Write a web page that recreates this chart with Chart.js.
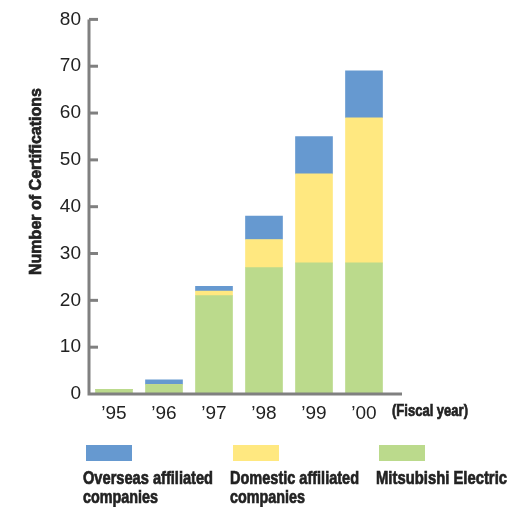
<!DOCTYPE html>
<html>
<head>
<meta charset="utf-8">
<script src="https://cdn.jsdelivr.net/npm/chart.js@4"></script>
<style>
  html, body { margin: 0; padding: 0; background: #fff; }
  #wrap { width: 531px; height: 507px; }
</style>
</head>
<body>
<div id="wrap"><canvas id="barchart" width="531" height="507"></canvas></div>
<script>
const years = ['\u201995', '\u201996', '\u201997', '\u201998', '\u201999', '\u201900'];
const mitsubishi = [1, 2, 21, 27, 28, 28];
const domestic = [0, 0, 1, 6, 19, 31];
const overseas = [0, 1, 1, 5, 8, 10];
const legendItems = [
  ['Overseas affiliated', 'companies'],
  ['Domestic affiliated', 'companies'],
  ['Mitsubishi Electric']
];
const colors = ['rgb(102, 153, 208)', 'rgb(255, 232, 128)', 'rgb(187, 218, 140)'];

// condensed bold look: squeeze Liberation Sans Bold sideways to a given width
function narrowText(c, s, x, y, w) {
  const k = w / c.measureText(s).width;
  c.save();
  c.translate(x, y);
  c.scale(k, 1);
  c.lineWidth = 0.7;
  c.strokeStyle = c.fillStyle;
  c.fillText(s, 0, 0);
  c.strokeText(s, 0, 0);
  c.restore();
}

// axis lines, inner ticks, titles and legend drawn by hand
const decor = {
  id: 'decor',
  afterDatasetsDraw(chart) {
    const c = chart.ctx;
    const area = chart.chartArea;
    const y = chart.scales.y;
    c.save();
    c.strokeStyle = '#808080';
    c.lineWidth = 3;
    c.beginPath();
    c.moveTo(area.right + 13, area.bottom);
    c.lineTo(area.left, area.bottom);
    c.lineTo(area.left, area.top);
    c.stroke();
    y.ticks.forEach(t => {
      const py = y.getPixelForValue(t.value);
      if (t.value === 0) return;
      c.beginPath();
      c.moveTo(area.left, py);
      c.lineTo(area.left + 9, py);
      c.stroke();
    });

    c.fillStyle = '#222';
    c.font = 'bold 17px "Liberation Sans"';
    c.textBaseline = 'alphabetic';
    c.textAlign = 'left';
    narrowText(c, '(Fiscal year)', 392, 416, 76);

    c.save();
    c.translate(41, 275);
    c.rotate(-Math.PI / 2);
    narrowText(c, 'Number of Certifications', 0, 0, 187);
    c.restore();

    const lx = [83, 230, 376];
    const widths = [[130, 75], [129, 75], [131]];
    c.font = 'bold 19px "Liberation Sans"';
    legendItems.forEach((lines, i) => {
      c.fillStyle = colors[i];
      c.fillRect(lx[i] + 3, 445, 46, 16);
      c.fillStyle = '#222';
      lines.forEach((s, j) => narrowText(c, s, lx[i], 484 + j * 19, widths[i][j]));
    });
    c.restore();
  }
};

const ctx = document.getElementById('barchart');
new Chart(ctx, {
  type: 'bar',
  data: {
    labels: years,
    datasets: [
      { label: 'Mitsubishi Electric', data: mitsubishi, backgroundColor: colors[2] },
      { label: 'Domestic affiliated companies', data: domestic, backgroundColor: colors[1] },
      { label: 'Overseas affiliated companies', data: overseas, backgroundColor: colors[0] }
    ]
  },
  options: {
    responsive: false,
    animation: false,
    events: [],
    barThickness: 37,
    layout: { padding: { left: 0, top: 17, right: 142, bottom: 73 } },
    plugins: { legend: { display: false }, tooltip: { enabled: false } },
    scales: {
      x: {
        stacked: true,
        grid: { display: false, drawTicks: false },
        border: { display: false },
        ticks: { color: '#222', font: { family: 'Liberation Sans', size: 19 }, padding: 8 },
        afterFit(s) { s.height = 40; }
      },
      y: {
        stacked: true,
        min: 0,
        max: 80,
        grid: { display: false, drawTicks: false },
        border: { display: false },
        ticks: { stepSize: 10, color: '#222', font: { family: 'Liberation Sans', size: 19 }, padding: 8 },
        afterFit(s) { s.width = 89; }
      }
    }
  },
  plugins: [decor]
});
</script>
</body>
</html>
